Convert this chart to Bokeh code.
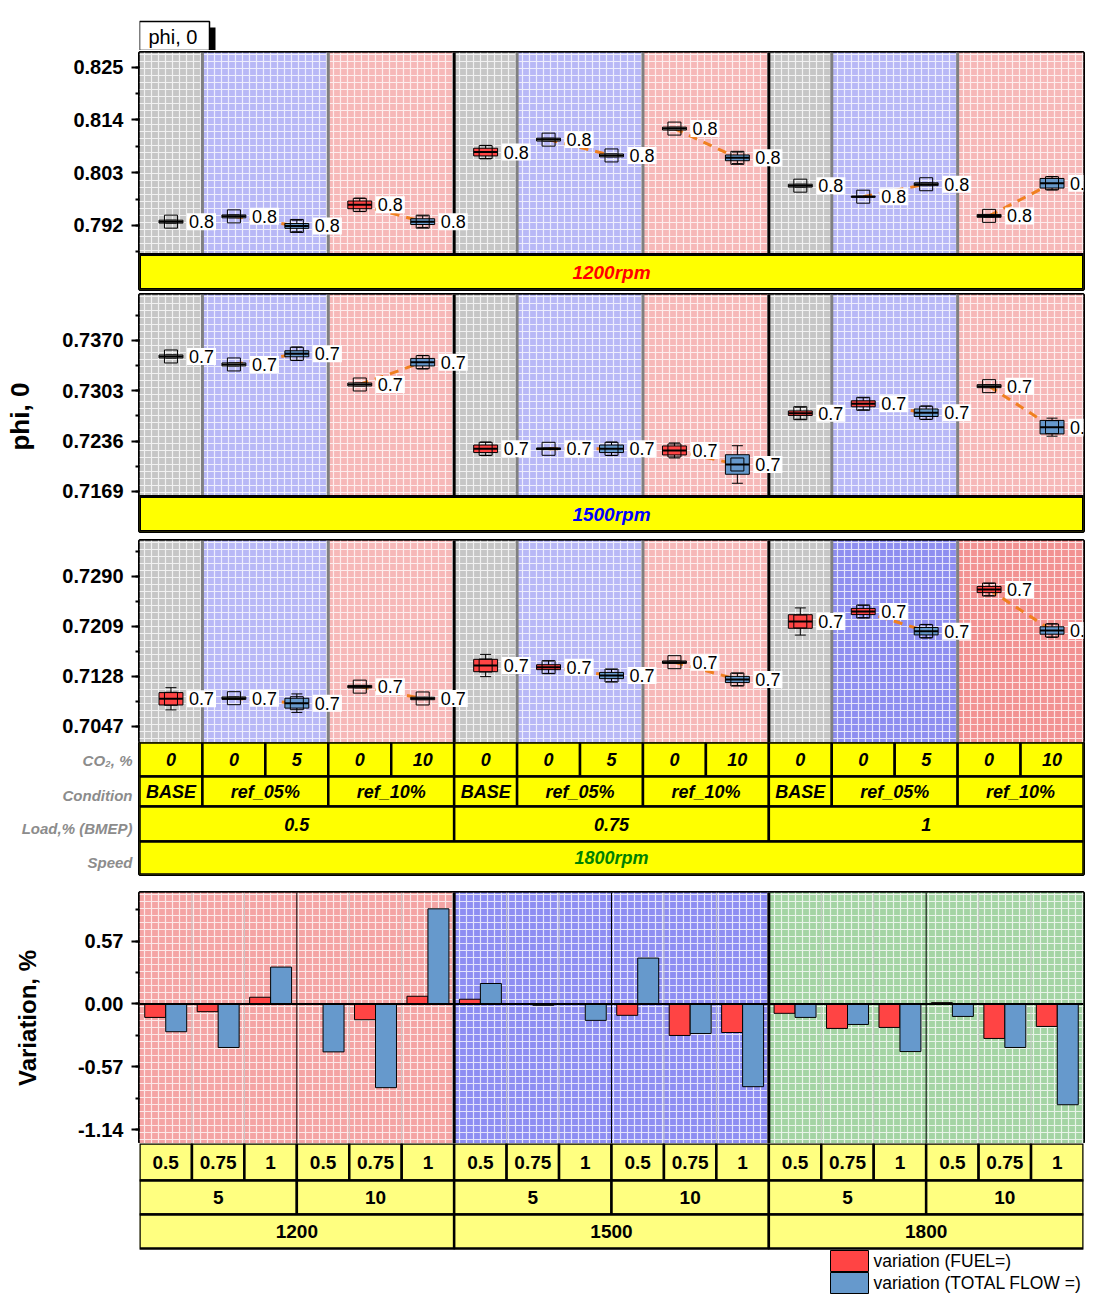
import numpy as np
from bokeh.plotting import figure
from bokeh.layouts import column
from bokeh.models import Range1d, FixedTicker, Span, PrintfTickFormatter
from bokeh.core.properties import value
from bokeh.embed import file_html
from bokeh.resources import INLINE

FONT = "Liberation Sans"

# ------------------------------------------------------------------ data
loads = ["0.5", "0.75", "1"]
conditions = ["BASE", "ref_05%", "ref_10%"]
condition_span = [1, 2, 2]
co2_levels = ["0", "0", "5", "0", "10"]
speeds_rpm = ["1200rpm", "1500rpm", "1800rpm"]
speed_colors = ["#ff0000", "#0000ff", "#008000"]
table_row_names = ["CO\u2082, %", "Condition", "Load,% (BMEP)", "Speed"]

# phi, 0 : mean / box half-range / whisker half-range / box colour  (15 cases per speed)
phi_1200_mean = [0.7928, 0.7939, 0.7919, 0.7963, 0.7928,
                 0.8073, 0.8099, 0.8066, 0.8122, 0.8061,
                 0.8003, 0.7980, 0.8006, 0.7940, 0.8008]
phi_1200_box = [0.0003, 0.0003, 0.0005, 0.0008, 0.0006,
                0.0008, 0.0003, 0.0003, 0.0003, 0.0006,
                0.0003, 0.0001, 0.0003, 0.0003, 0.0010]
phi_1200_whisk = [0.0003, 0.0003, 0.0012, 0.0014, 0.0012,
                  0.0014, 0.0003, 0.0003, 0.0003, 0.0012,
                  0.0003, 0.0001, 0.0003, 0.0003, 0.0014]
phi_1200_fill = ["w", "w", "b", "r", "b", "r", "w", "w", "w", "b", "w", "w", "w", "w", "b"]

phi_1500_mean = [0.73487, 0.73381, 0.73523, 0.73114, 0.73411,
                 0.72258, 0.72258, 0.72258, 0.72236, 0.72049,
                 0.72732, 0.72857, 0.72738, 0.73092, 0.72546]
phi_1500_box = [0.0002, 0.0002, 0.0004, 0.0002, 0.0005,
                0.0005, 0.0001, 0.0005, 0.0006, 0.0013,
                0.0003, 0.0004, 0.0005, 0.0002, 0.0009]
phi_1500_whisk = [0.0002, 0.0002, 0.0009, 0.0002, 0.0009,
                  0.0009, 0.0001, 0.0009, 0.0010, 0.0025,
                  0.0008, 0.0008, 0.0009, 0.0002, 0.0012]
phi_1500_fill = ["w", "w", "b", "w", "b", "r", "w", "b", "r", "b", "r", "r", "b", "w", "b"]

phi_1800_mean = [0.70914, 0.70924, 0.70843, 0.71111, 0.70919,
                 0.71453, 0.71426, 0.71291, 0.71507, 0.71227,
                 0.72166, 0.72328, 0.72009, 0.72684, 0.72020]
phi_1800_box = [0.0010, 0.0002, 0.0008, 0.0002, 0.0002,
                0.0010, 0.0004, 0.0005, 0.0002, 0.0005,
                0.0011, 0.0005, 0.0006, 0.0005, 0.0006]
phi_1800_whisk = [0.0018, 0.0002, 0.0015, 0.0002, 0.0002,
                  0.0018, 0.0010, 0.0010, 0.0002, 0.0010,
                  0.0022, 0.0010, 0.0011, 0.0010, 0.0011]
phi_1800_fill = ["r", "w", "b", "w", "w", "r", "r", "b", "w", "b", "r", "r", "b", "r", "b"]

ticks_1200 = [0.792, 0.803, 0.814, 0.825]
ticks_1500 = [0.7169, 0.7236, 0.7303, 0.7370]
ticks_1800 = [0.7047, 0.7128, 0.7209, 0.7290]

# variation, %  (speed x CO2 x load)
var_speeds = ["1200", "1500", "1800"]
var_co2 = ["5", "10"]
var_loads = ["0.5", "0.75", "1"]
var_fuel = [-0.122, -0.070, 0.061, 0.000, -0.143, 0.070,
            0.043, 0.000, 0.000, -0.103, -0.286, -0.259,
            -0.085, -0.222, -0.213, 0.012, -0.313, -0.204]
var_total = [-0.252, -0.395, 0.335, -0.435, -0.760, 0.864,
             0.186, -0.012, -0.149, 0.417, -0.268, -0.751,
             -0.122, -0.186, -0.432, -0.113, -0.395, -0.915]
var_ticks = [-1.14, -0.57, 0.00, 0.57]
series_names = ["variation (FUEL=)", "variation (TOTAL FLOW =)"]

# ------------------------------------------------------------------ style
RED = "#ff4444"
BLUE = "#6699cc"
FILL = {"r": RED, "b": BLUE, "w": "white"}
BG_COND = ["#c6c6c6", "#b8b8f6", "#f6b8b8"]
BG_COND_STRONG = ["#c6c6c6", "#8e8ef0", "#f29292"]
BG_SPEED = ["#f4a4a4", "#8e8ef2", "#a4d4a4"]
YELLOW = "#ffff00"
LYELLOW = "#ffff80"
LEFT, RIGHT, FW = 139, 17, 944
HATCH = dict(hatch_pattern="+", hatch_color="white", hatch_scale=7, hatch_weight=1.2, hatch_alpha=0.75)


def bare(fw, fh, xr, yr, top=0, bottom=0, yaxis=False):
    p = figure(frame_width=fw, frame_height=fh, x_range=xr, y_range=yr,
               min_border_left=LEFT, min_border_right=RIGHT, min_border_top=top,
               min_border_bottom=bottom, toolbar_location=None, output_backend="svg",
               x_axis_location=None, y_axis_location="left" if yaxis else None)
    p.grid.visible = False
    p.outline_line_color = None
    p.border_fill_color = "white"
    p.background_fill_color = "white"
    return p


def style_yaxis(p, major, fmt, label, standoff, lo, hi):
    step = major[1] - major[0]
    minor = [m for m in np.arange(major[0] - step / 2, major[-1] + step, step / 2)
             if lo <= m <= hi]
    ax = p.yaxis[0]
    ax.ticker = FixedTicker(ticks=major, minor_ticks=minor)
    ax.formatter = PrintfTickFormatter(format=fmt)
    ax.major_label_text_font = FONT
    ax.major_label_text_font_size = "20px"
    ax.major_label_text_font_style = "bold"
    ax.major_label_text_color = "black"
    ax.major_label_standoff = 8
    ax.major_tick_out = 8
    ax.major_tick_in = 0
    ax.minor_tick_out = 4
    ax.minor_tick_in = 0
    ax.major_tick_line_width = 2
    ax.minor_tick_line_width = 2
    ax.axis_line_color = None
    ax.axis_label = label
    if label:
        ax.axis_label_text_font = FONT
        ax.axis_label_text_font_size = "26px"
        ax.axis_label_text_font_style = "bold"
        ax.axis_label_text_color = "black"
        ax.axis_label_standoff = standoff


def make_panel(mean, box, whisk, fill, major, fmt, yr, extra_px, top, bottom,
               label=None, strong_last=False):
    ppu = 202 / (yr[1] - yr[0])
    ybot = yr[0] - extra_px / ppu
    p = bare(FW, 202 + extra_px, Range1d(0, 15), Range1d(ybot, yr[1]), top=top, bottom=bottom, yaxis=True)
    # condition backgrounds
    for l in range(3):
        start = 0
        for c, span in enumerate(condition_span):
            col = (BG_COND_STRONG if (strong_last and l == 2) else BG_COND)[c]
            p.quad(left=[5 * l + start], right=[5 * l + start + span], bottom=[yr[0]], top=[yr[1]],
                   fill_color=col, line_color=None, **HATCH)
            start += span
    # separators
    ks_black = [k for k in range(1, 15) if k % 5 == 0]
    ks_gray = [k for k in range(1, 15) if k % 5 in (1, 3)]
    p.segment(x0=ks_gray, x1=ks_gray, y0=yr[0], y1=yr[1], line_color="#808080", line_width=3)
    p.segment(x0=ks_black, x1=ks_black, y0=yr[0], y1=yr[1], line_color="black", line_width=3)
    xs = np.arange(15) + 0.5
    mean = np.array(mean)
    box = np.array(box)
    whisk = np.array(whisk)
    # dashed orange trend within each reference condition
    pairs = [(5 * l + a, 5 * l + a + 1) for l in range(3) for a in (1, 3)]
    p.segment(x0=[xs[a] for a, b in pairs], y0=[mean[a] for a, b in pairs],
              x1=[xs[b] for a, b in pairs], y1=[mean[b] for a, b in pairs],
              line_color="#f08020", line_width=3, line_dash="9 7")
    # whiskers + caps
    p.segment(x0=xs, y0=mean - whisk, x1=xs, y1=mean + whisk, line_color="black", line_width=1)
    p.scatter(x=np.concatenate([xs, xs]), y=np.concatenate([mean - whisk, mean + whisk]),
              marker="dash", size=11, line_color="black", line_width=1)
    # boxes
    p.quad(left=xs - 0.19, right=xs + 0.19, bottom=mean - box, top=mean + box,
           fill_color=[FILL[f] for f in fill], line_color="black", line_width=1)
    p.segment(x0=xs - 0.19, y0=mean, x1=xs + 0.19, y1=mean, line_color="black", line_width=2)
    # mean marker
    p.scatter(x=xs, y=mean, marker="square", size=13, fill_color=None, line_color="black", line_width=1)
    # value labels
    p.text(x=xs, y=mean, text=["%.1f" % m for m in mean], x_offset=16,
           text_baseline="middle", text_align="left", text_font=value(FONT),
           text_font_size="18px", text_color="black",
           background_fill_color="white", padding=2)
    if extra_px:
        p.segment(x0=[0], x1=[15], y0=[yr[0]], y1=[yr[0]], line_color="black", line_width=3)
    p.outline_line_color = "black"
    p.outline_line_width = 3
    style_yaxis(p, major, fmt, label, 24, yr[0], yr[1])
    return p, (lambda py: ybot + py / ppu)


def add_band(p, px2y, text, color):
    p.quad(left=[0], right=[15], bottom=[px2y(0)], top=[px2y(35)], fill_color=YELLOW,
           line_color="black", line_width=3)
    p.text(x=[7.5], y=[px2y(17.5)], text=[text], text_align="center", text_baseline="middle",
           text_font=value(FONT), text_font_size="19px", text_font_style="bold italic", text_color=color)


# ------------------------------------------------------------------ header box "phi, 0"
hd = bare(FW, 50, Range1d(0, FW), Range1d(50, 0))
hd.quad(left=[6], right=[76], top=[27], bottom=[56], fill_color="black", line_color=None)
hd.quad(left=[0], right=[70], top=[21], bottom=[50], fill_color="white", line_color="black", line_width=1.5)
hd.text(x=[9], y=[36], text=["phi,  0"], text_baseline="middle", text_font=value(FONT),
        text_font_size="20px", text_color="black")

# ------------------------------------------------------------------ phi panels
p1, y1 = make_panel(phi_1200_mean, phi_1200_box, phi_1200_whisk, phi_1200_fill,
                    ticks_1200, "%.3f", (0.78595, 0.82806), 35, 2, 3)
add_band(p1, y1, speeds_rpm[0], speed_colors[0])
p2, y2 = make_panel(phi_1500_mean, phi_1500_box, phi_1500_whisk, phi_1500_fill,
                    ticks_1500, "%.4f", (0.71623, 0.74312), 35, 2, 7, label="phi,  0")
add_band(p2, y2, speeds_rpm[1], speed_colors[1])
p3, y3 = make_panel(phi_1800_mean, phi_1800_box, phi_1800_whisk, phi_1800_fill,
                    ticks_1800, "%.4f", (0.70206, 0.73478), 0, 2, 0, strong_last=True)

# ------------------------------------------------------------------ table under panel 3
t3 = bare(FW, 132, Range1d(0, 15), Range1d(0, 132), bottom=16, yaxis=True)
rows = {"co2": (98, 132), "cond": (68, 98), "load": (33, 68), "speed": (0, 33)}
cells = []  # (left, right, row, text, color)
for l in range(3):
    for i, c in enumerate(co2_levels):
        cells.append((5 * l + i, 5 * l + i + 1, "co2", c, "black"))
    start = 0
    for c, span in zip(conditions, condition_span):
        cells.append((5 * l + start, 5 * l + start + span, "cond", c, "black"))
        start += span
    cells.append((5 * l, 5 * l + 5, "load", loads[l], "black"))
cells.append((0, 15, "speed", speeds_rpm[2], speed_colors[2]))
t3.quad(left=[c[0] for c in cells], right=[c[1] for c in cells],
        bottom=[rows[c[2]][0] for c in cells], top=[rows[c[2]][1] for c in cells],
        fill_color=YELLOW, line_color="black", line_width=2.5)
t3.text(x=[(c[0] + c[1]) / 2 for c in cells], y=[sum(rows[c[2]]) / 2 for c in cells],
        text=[c[3] for c in cells], text_color=[c[4] for c in cells],
        text_align="center", text_baseline="middle", text_font=value(FONT),
        text_font_size="18px", text_font_style="bold italic")
row_ticks = [sum(rows[k]) / 2 - d for k, d in zip(["co2", "cond", "load", "speed"], [1, 4, 4, 4])]
ax3 = t3.yaxis[0]
ax3.ticker = FixedTicker(ticks=row_ticks, minor_ticks=[])
ax3.major_label_overrides = {t: n for t, n in zip(row_ticks, table_row_names)}
ax3.major_tick_line_color = None
ax3.minor_tick_line_color = None
ax3.major_tick_out = 0
ax3.major_tick_in = 0
ax3.axis_line_color = None
ax3.major_label_standoff = 7
ax3.major_label_text_font = FONT
ax3.major_label_text_font_size = "15px"
ax3.major_label_text_font_style = "bold italic"
ax3.major_label_text_color = "#8c8c8c"
t3.outline_line_color = "black"
t3.outline_line_width = 3

# ------------------------------------------------------------------ variation bar chart
nb = len(var_speeds) * len(var_co2) * len(var_loads)
VLO, VHI = -1.267, 1.0124
pv = bare(FW, 251, Range1d(0, nb), Range1d(VLO, VHI), top=2, yaxis=True)
for s in range(3):
    pv.quad(left=[6 * s], right=[6 * s + 6], bottom=[VLO], top=[VHI],
            fill_color=BG_SPEED[s], line_color=None, **HATCH)
for k in range(1, nb):
    if k % 6 == 0:
        pv.add_layout(Span(location=k, dimension="height", line_color="black", line_width=3))
    elif k % 3 == 0:
        pv.add_layout(Span(location=k, dimension="height", line_color="black", line_width=1))
    else:
        pv.add_layout(Span(location=k, dimension="height", line_color="#c8c8c8", line_width=1))
slots = np.array([6 * s + 3 * c + l for s in range(3) for c in range(2) for l in range(3)])
pv.vbar(x=slots + 0.3, top=var_fuel, bottom=0, width=0.4, fill_color=RED, line_color="black", line_width=1)
pv.vbar(x=slots + 0.7, top=var_total, bottom=0, width=0.4, fill_color=BLUE, line_color="black", line_width=1)
pv.add_layout(Span(location=0, dimension="width", line_color="black", line_width=2))
pv.outline_line_color = "black"
pv.outline_line_width = 3
style_yaxis(pv, var_ticks, "%.2f", "Variation, %", 34, VLO, VHI)
pv.yaxis[0].axis_label_text_font_size = "24px"

# ------------------------------------------------------------------ table under bar chart + legend
tb = bare(FW, 152, Range1d(0, nb), Range1d(0, 152))
brows = {"load": (115, 152), "co2": (81, 115), "speed": (47, 81)}
bcells = []
for s in range(3):
    for c in range(2):
        for l in range(3):
            k = 6 * s + 3 * c + l
            bcells.append((k, k + 1, "load", var_loads[l]))
        bcells.append((6 * s + 3 * c, 6 * s + 3 * c + 3, "co2", var_co2[c]))
    bcells.append((6 * s, 6 * s + 6, "speed", var_speeds[s]))
tb.quad(left=[c[0] for c in bcells], right=[c[1] for c in bcells],
        bottom=[brows[c[2]][0] for c in bcells], top=[brows[c[2]][1] for c in bcells],
        fill_color=LYELLOW, line_color="black", line_width=2.5)
tb.text(x=[(c[0] + c[1]) / 2 for c in bcells], y=[sum(brows[c[2]]) / 2 for c in bcells],
        text=[c[3] for c in bcells], text_align="center", text_baseline="middle",
        text_font=value(FONT), text_font_size="19px", text_font_style="bold", text_color="black")
bslot = FW / nb
lx0, lx1 = (830 - 139) / bslot, (868 - 139) / bslot
tb.quad(left=[lx0, lx0], right=[lx1, lx1], bottom=[24, 2], top=[45, 23],
        fill_color=[RED, BLUE], line_color="black", line_width=1)
tb.text(x=[(873 - 139) / bslot] * 2, y=[34.5, 12.5], text=series_names, text_baseline="middle",
        text_font=value(FONT), text_font_size="17.5px", text_color="black")

layout = column(hd, p1, p2, p3, t3, pv, tb)
open("out.html", "w").write(file_html(layout, INLINE))
